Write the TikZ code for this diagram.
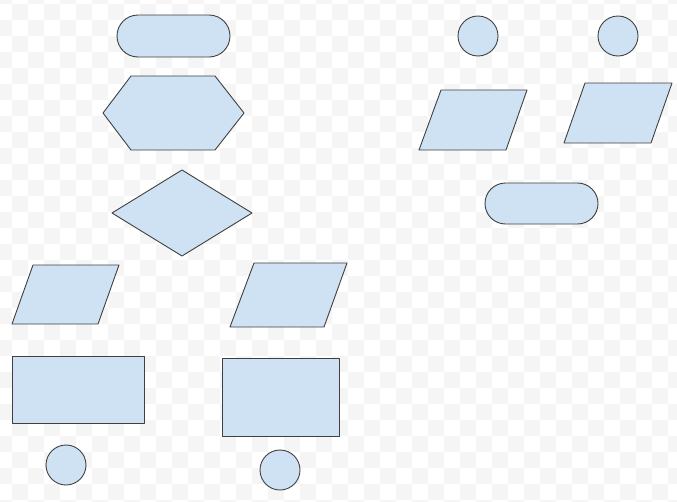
\documentclass[tikz,border=0pt]{standalone}
\usepackage{tikz}
\definecolor{shapefill}{HTML}{CFE2F3}
\definecolor{shapeline}{HTML}{404040}
\definecolor{checkgray}{HTML}{F5F5F5}
\tikzset{
  shp/.style={fill=shapefill, draw=shapeline, line width=0.9pt, line join=round},
}
\begin{document}
\begin{tikzpicture}[x=1pt,y=-1pt]
\useasboundingbox (0,0) rectangle (677,501);
\fill[white] (0,0) rectangle (677,501);
% checkerboard background
\begin{scope}
\clip (0,0) rectangle (677,501);
\foreach \i in {-1,...,42}{
  \foreach \j in {-1,...,31}{
    \pgfmathtruncatemacro{\cellpar}{mod(\i+\j+100,2)}
    \ifnum\cellpar=0
      \fill[checkgray] ({12+16*\i},{4+16*\j}) rectangle ++(16,16);
    \fi
  }
}
\end{scope}
% left column
\draw[shp, rounded corners=21pt] (117,15) rectangle (230,57);
\draw[shp] (103,113) -- (131,76) -- (215,76) -- (244,113) -- (215,150) -- (131,150) -- cycle;
\draw[shp] (182,170) -- (252,213) -- (182,256) -- (112,213) -- cycle;
\draw[shp] (33,265) -- (119,265) -- (98,324) -- (12,324) -- cycle;
\draw[shp] (254,263) -- (347,263) -- (324,327) -- (230,327) -- cycle;
\draw[shp] (12,356) rectangle (144,423);
\draw[shp] (222,358) rectangle (339,436);
\draw[shp] (66,465) circle[radius=20];
\draw[shp] (280,470) circle[radius=20];
% right group
\draw[shp] (478,36) circle[radius=20];
\draw[shp] (618,36) circle[radius=20];
\draw[shp] (441,90) -- (527,90) -- (506,150) -- (419,150) -- cycle;
\draw[shp] (585,83) -- (672,83) -- (651,143) -- (564,143) -- cycle;
\draw[shp, rounded corners=20.5pt] (485,183) rectangle (598,224);
\end{tikzpicture}
\end{document}
